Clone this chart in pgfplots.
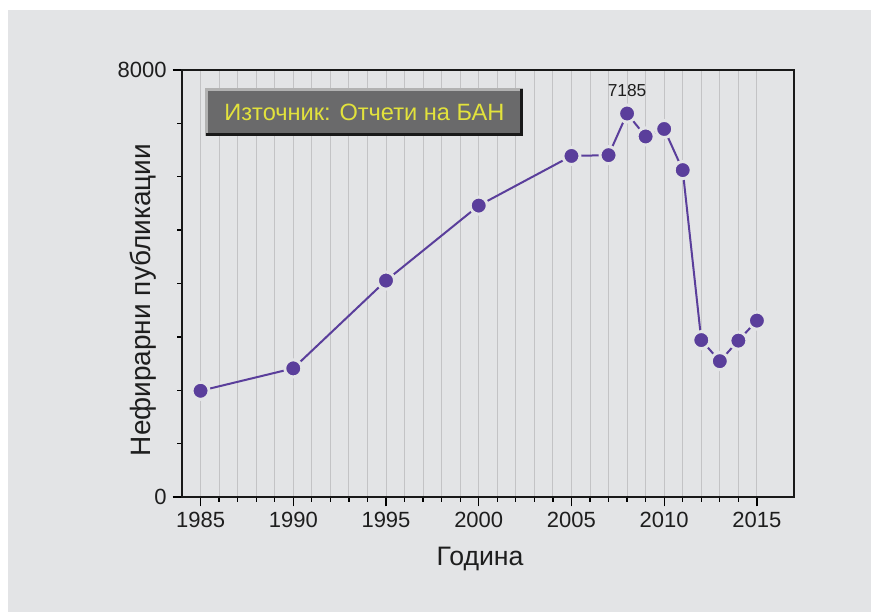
\documentclass[border=0pt]{standalone}
\usepackage{pgfplots}
\pgfplotsset{compat=1.18}
\usepackage{fontspec}
\setmainfont{Liberation Sans}
\definecolor{bg}{HTML}{E3E4E6}
\definecolor{gridc}{HTML}{C3C3C5}
\definecolor{purp}{HTML}{5A3E9B}
\definecolor{boxf}{HTML}{6A6A6B}
\definecolor{ylw}{HTML}{E2E23C}
\definecolor{txt}{HTML}{1E1E1E}
\begin{document}
\begin{tikzpicture}
\useasboundingbox (0,0) rectangle (653.25pt,459pt);
\fill[white] (0,0) rectangle (653.25pt,459pt);
\fill[bg] (6pt,0) rectangle (653.25pt,451.5pt);
\begin{axis}[
  at={(136.5pt,86.25pt)}, anchor=south west,
  scale only axis, width=459pt, height=320.25pt,
  xmin=1984, xmax=2017, ymin=0, ymax=8000,
  xtick={1985,1990,...,2015}, minor x tick num=4,
  ytick={0,8000}, minor y tick num=7,
  xmajorgrids, xminorgrids,
  major grid style={gridc, line width=0.75pt},
  minor grid style={gridc, line width=0.75pt},
  tick pos=left, tick align=outside,
  major tick length=7pt, minor tick length=3.5pt,
  every tick/.style={black, line width=1pt},
  axis line style={black!90, line width=1.3pt},
  /pgf/number format/assume math mode=true,
  /pgf/number format/1000 sep={},
  ticklabel style={font=\fontsize{16.5}{19}\selectfont, text=txt},
  xticklabel style={yshift=-1pt},
  yticklabel style={xshift=-1pt},
  xlabel={Година}, ylabel={Нефирарни публикации},
  xlabel style={font=\fontsize{20}{23}\selectfont, text=txt, at={(axis description cs:0.487,-0.161)}, anchor=base},
  ylabel style={font=\fontsize{21}{24}\selectfont, text=txt, at={(axis description cs:-0.0507,0.461)}, anchor=base, rotate=0},
  clip=false,
]
\addplot[color=purp, line width=1.5pt, mark=*,
  mark options={fill=purp, draw=bg, line width=2.2pt}, mark size=6.4pt]
  coordinates {
  (1985,1990) (1990,2410) (1995,4055) (2000,5460) (2005,6390)
  (2007,6405) (2008,7185) (2009,6755) (2010,6895) (2011,6125)
  (2012,2940) (2013,2545) (2014,2930) (2015,3305)
  };
\node[anchor=base, font=\fontsize{13}{15}\selectfont, text=txt] at (axis cs:2008,7185) [yshift=12.5pt] {7185};
\node[name=src, fill=boxf, minimum width=237pt, minimum height=34.5pt, inner sep=0pt,
  text=ylw, font=\fontsize{17.7}{20}\selectfont] at (axis description cs:0.298,0.9005) {Източник: Отчети на БАН};
\end{axis}
\draw[color=black!30, line width=2.25pt] (src.south west) -- (src.north west) -- (src.north east);
\draw[color=black!90, line width=2.25pt] ([xshift=-1.1pt]src.north east) -- ([xshift=-1.1pt,yshift=1.1pt]src.south east) -- ([yshift=1.1pt]src.south west);
\end{tikzpicture}
\end{document}
